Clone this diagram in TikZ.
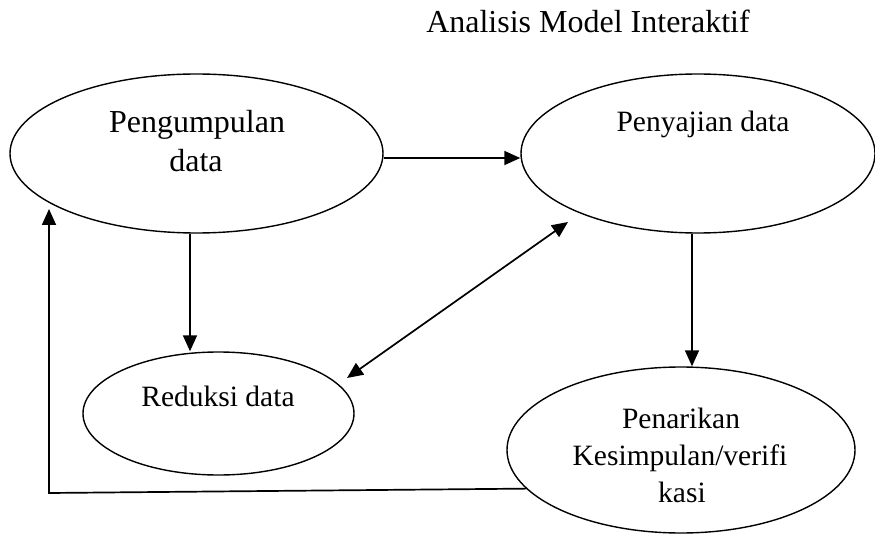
\documentclass[tikz,border=0pt]{standalone}
\usepackage{fontspec}
\setmainfont{Liberation Serif}
\usetikzlibrary{shapes.geometric,arrows.meta}
\begin{document}
\begin{tikzpicture}[x=1pt,y=-1pt,
 oval/.style={draw,ellipse,line width=1.4pt,inner sep=0pt},
 txt/.style={anchor=base,inner sep=0pt,font=\fontsize{29.5}{35}\selectfont},
 big/.style={anchor=base,inner sep=0pt,font=\fontsize{32}{38}\selectfont},
 tip/.tip={Triangle[length=16pt,width=14pt]},
 arr/.style={line width=1.7pt,-tip},
 darr/.style={line width=1.7pt,tip-tip}]
\useasboundingbox (0,0) rectangle (875,537);
% title
\node[big] (title) at (588,33) {Analisis Model Interaktif};
% ovals
\node[oval,minimum width=373pt,minimum height=159pt] (e1) at (196.5,153.5) {};
\node[oval,minimum width=354pt,minimum height=159pt] (e2) at (698,153.5) {};
\node[oval,minimum width=271pt,minimum height=123pt] (e3) at (218.5,413.5) {};
\node[oval,minimum width=348pt,minimum height=166pt] (e4) at (681,450) {};
% texts
\node[big] (t1a) at (197,133) {Pengumpulan};
\node[big] (t1b) at (196,172) {data};
\node[txt] (t2) at (703,132) {Penyajian data};
\node[txt] (t3) at (218,406) {Reduksi data};
\node[txt] (t4a) at (681,428) {Penarikan};
\node[txt] (t4b) at (680,465) {Kesimpulan/verifi};
\node[txt] (t4c) at (682,502) {kasi};
% connectors
\draw[arr] ([yshift=-4.5pt]e1.east) -- ([yshift=-4.5pt]e2.west);
\draw[arr] ([xshift=-6.5pt]e1.south) -- ([xshift=-6.5pt]e1.south |- e3.north);
\draw[arr] ([xshift=-6pt]e2.south) -- ([xshift=-6pt]e2.south |- e4.north);
\coordinate (d1) at (347,378);
\coordinate (d2) at (568,222);
\draw[darr] (d1) -- (d2);
\coordinate (fb1) at (49,493);
\coordinate (fb2) at (49,209);
\draw[arr] (e4.194) -- (fb1) -- (fb2);
\end{tikzpicture}
\end{document}
